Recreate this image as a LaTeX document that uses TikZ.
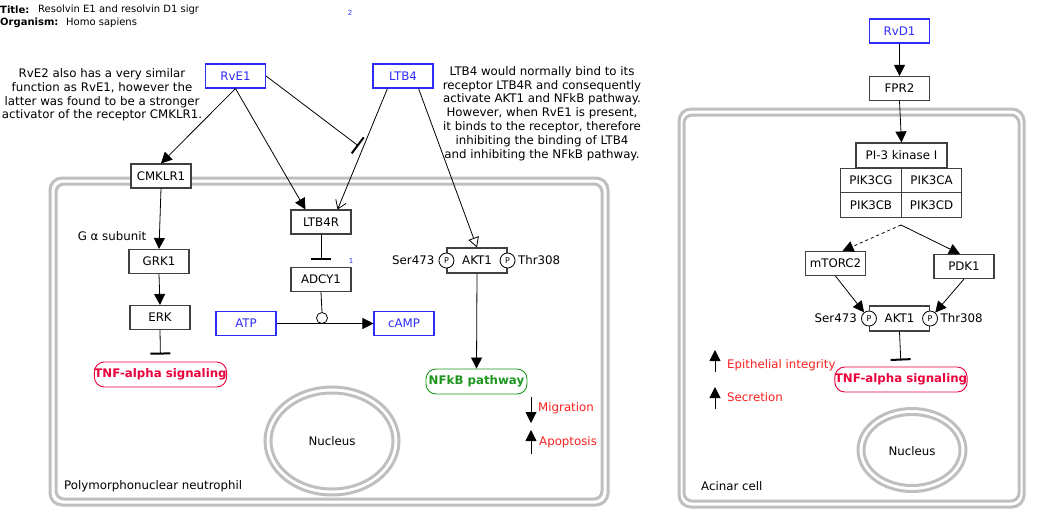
\documentclass[tikz,border=0pt]{standalone}
\usepackage{fontspec}
\setmainfont{DejaVu Sans}
\usetikzlibrary{arrows.meta}
\definecolor{metblue}{RGB}{45,45,250}
\definecolor{tnfred}{RGB}{235,0,60}
\definecolor{pwgreen}{RGB}{30,150,30}
\definecolor{phenred}{RGB}{250,30,30}
\tikzset{
  gene/.style={draw=black!75, line width=1.1pt, fill=white, minimum width=60pt, minimum height=24pt, inner sep=0pt},
  metab/.style={gene, draw=metblue, text=metblue},
  pway/.style={draw, line width=0.9pt, rounded corners=10pt, fill=white, minimum height=25pt, inner sep=0pt, font=\fontsize{11.8}{13.8}\selectfont\bfseries},
  phos/.style={circle, draw, fill=white, line width=0.8pt, minimum size=15pt, inner sep=0pt, font=\fontsize{8}{9}\selectfont},
  wall/.style={draw=gray!50, line width=3pt},
  act/.style={-{Triangle[length=11pt,width=11pt]}, line width=0.8pt},
  inh/.style={-{Bar[width=20pt,line width=2pt]}, shorten >=7pt, line width=0.8pt},
  note/.style={align=center, inner sep=0pt}
}
\begin{document}
\begin{tikzpicture}[x=1pt, y=-1pt, font=\fontsize{11.8}{13.8}\selectfont]
  \useasboundingbox (0,0) rectangle (1042,525);
  \node[anchor=west, inner sep=0pt, font=\fontsize{10}{12}\selectfont\bfseries] (ttl) at (0,10) {Title:};
  \node[anchor=west, inner sep=0pt, font=\fontsize{10}{12}\selectfont] (ttlv) at (38,10) {Resolvin E1 and resolvin D1 sigr};
  \node[anchor=west, inner sep=0pt, font=\fontsize{10}{12}\selectfont\bfseries] (org) at (0,23) {Organism:};
  \node[anchor=west, inner sep=0pt, font=\fontsize{10}{12}\selectfont] (orgv) at (66,23) {Homo sapiens};
  \node[text=metblue, inner sep=0pt, font=\fontsize{7}{8}\selectfont] (ref2) at (350,13) {2};
  \node[text=metblue, inner sep=0pt, font=\fontsize{7}{8}\selectfont] (ref1) at (351,261) {1};

  \draw[wall, rounded corners=12pt] (50,178) rectangle (608,505);
  \draw[wall, rounded corners=8pt] (56,184) rectangle (602,499);
  \draw[wall, rounded corners=12pt] (679,109) rectangle (1024,507);
  \draw[wall, rounded corners=8pt] (684,115) rectangle (1019,501);
  \draw[wall] (332,441) ellipse [x radius=67, y radius=54];
  \draw[wall] (332,441) ellipse [x radius=61, y radius=48];
  \draw[wall] (912,450) ellipse [x radius=54, y radius=41.5];
  \draw[wall] (912,450) ellipse [x radius=48, y radius=35.5];
  \node (nuc1) at (332,441) {Nucleus};
  \node (nuc2) at (912,451) {Nucleus};
  \node[anchor=west, inner sep=0pt] (pmn) at (64,486) {Polymorphonuclear neutrophil};
  \node[anchor=west, inner sep=0pt] (acinar) at (701,486) {Acinar cell};

  \node[note] (note1) at (102,95) {RvE2 also has a very similar\\function as RvE1, however the\\latter was found to be a stronger\\activator of the receptor CMKLR1.};
  \node[note] (note2) at (542,113.5) {LTB4 would normally bind to its\\receptor LTB4R and consequently\\activate AKT1 and NFkB pathway.\\However, when RvE1 is present,\\it binds to the receptor, therefore\\inhibiting the binding of LTB4\\and inhibiting the NFkB pathway.};

  \foreach \x/\y/\n/\v in {235.5/76/rve1/RvE1, 403/76/ltb4/LTB4, 246/323.5/atp/ATP, 404/323.5/camp/cAMP, 899.5/31/rvd1/RvD1}{
    \node[metab] (\n) at (\x,\y) {\v};
  }
  \foreach \x/\y/\n/\v in {161/176/cmklr1/CMKLR1, 321/222/ltb4r/LTB4R, 321/279.5/adcy1/ADCY1, 159/261.5/grk1/GRK1, 160/317.5/erk/ERK, 899.5/88.5/fpr2/FPR2, 835.5/263.5/mtorc2/mTORC2, 964/266.5/pdk1/PDK1}{
    \node[gene] (\n) at (\x,\y) {\v};
  }
  \node[gene, minimum width=91pt, minimum height=25pt] (pi3k) at (901.5,155.5) {PI-3 kinase I};
  \foreach \x/\y/\v in {871/180.5/PIK3CG, 931.5/180.5/PIK3CA, 871/205/PIK3CB, 931.5/205/PIK3CD}{
    \node[gene, minimum width=60.5pt, minimum height=24.5pt] (\v) at (\x,\y) {\v};
  }
  \foreach \x/\y/\n in {477/260.5/akt1, 899.5/318.5/akt2}{
    \node[gene, minimum height=25pt] (\n) at (\x,\y) {AKT1};
    \node[phos] (\n-s) at (\n.west) {P};
    \node[phos] (\n-t) at (\n.east) {P};
    \node[anchor=east, inner sep=4pt] (\n-ser) at (\n-s.west) {Ser473};
    \node[anchor=west, inner sep=2.5pt] (\n-thr) at (\n-t.east) {Thr308};
  }
  \node[pway, draw=tnfred, text=tnfred, minimum width=131pt] (tnf1) at (160.5,374.5) {TNF-alpha signaling};
  \node[pway, draw=tnfred, text=tnfred, minimum width=131pt] (tnf2) at (901,379.5) {TNF-alpha signaling};
  \node[pway, draw=pwgreen, text=pwgreen, minimum width=101pt] (nfkb) at (476.5,381.5) {NFkB pathway};
  \node[inner sep=0pt] (galpha) at (112,236) {G α subunit};
  \node[circle, draw, line width=0.8pt, fill=white, minimum size=11pt, inner sep=0pt] (cat) at (322,318) {};

  \draw[act] (rve1.south) -- (cmklr1.north);
  \draw[act] (rve1.south) -- ([xshift=15pt]ltb4r.north west);
  \draw[-{Straight Barb[length=8pt,width=11pt]}, line width=0.8pt] ([xshift=15pt]ltb4.south west) -- ([xshift=-14pt]ltb4r.north east) coordinate[pos=0.5] (blk);
  \draw[inh, shorten >=5pt] (rve1.east) -- (blk);
  \draw[-{Triangle[open,length=10pt,width=11pt]}, line width=0.8pt] ([xshift=-15pt]ltb4.south east) -- (akt1.north);
  \draw[act] (cmklr1.south) -- (grk1.north);
  \draw[act] (grk1.south) -- (erk.north);
  \draw[inh] (erk.south) -- (tnf1.north);
  \draw[inh] (ltb4r.south) -- (adcy1.north);
  \draw[act] (atp.east) -- (camp.west);
  \draw[line width=0.8pt] (adcy1.south) -- (cat.north);
  \draw[act] (akt1.south) -- (nfkb.north);

  \coordinate (mig1) at (531,397);
  \coordinate (mig2) at (531,423);
  \coordinate (apo1) at (531,454);
  \coordinate (apo2) at (531,430);
  \draw[act] (mig1) -- (mig2);
  \draw[act] (apo1) -- (apo2);
  \node[anchor=west, text=phenred, inner sep=0pt] (mig) at (538,408) {Migration};
  \node[anchor=west, text=phenred, inner sep=0pt] (apo) at (539,442) {Apoptosis};

  \coordinate (pibr) at (901,225);
  \draw[act] (rvd1.south) -- (fpr2.north);
  \draw[act] (fpr2.south) -- (pi3k.north);
  \draw[act, dashed] (pibr) -- ([xshift=7pt]mtorc2.north);
  \draw[act] (pibr) -- ([xshift=-4pt]pdk1.north);
  \draw[act] (mtorc2.south) -- (akt2-s);
  \draw[act] (pdk1.south) -- (akt2-t);
  \draw[inh, shorten >=6pt] (akt2.south) -- (tnf2.north);

  \coordinate (epi1) at (715,372);
  \coordinate (epi2) at (715,350);
  \coordinate (sec1) at (715,409);
  \coordinate (sec2) at (715,387);
  \draw[act] (epi1) -- (epi2);
  \draw[act] (sec1) -- (sec2);
  \node[anchor=west, text=phenred, inner sep=0pt] (epi) at (727,365) {Epithelial integrity};
  \node[anchor=west, text=phenred, inner sep=0pt] (sec) at (727,397) {Secretion};
\end{tikzpicture}
\end{document}
